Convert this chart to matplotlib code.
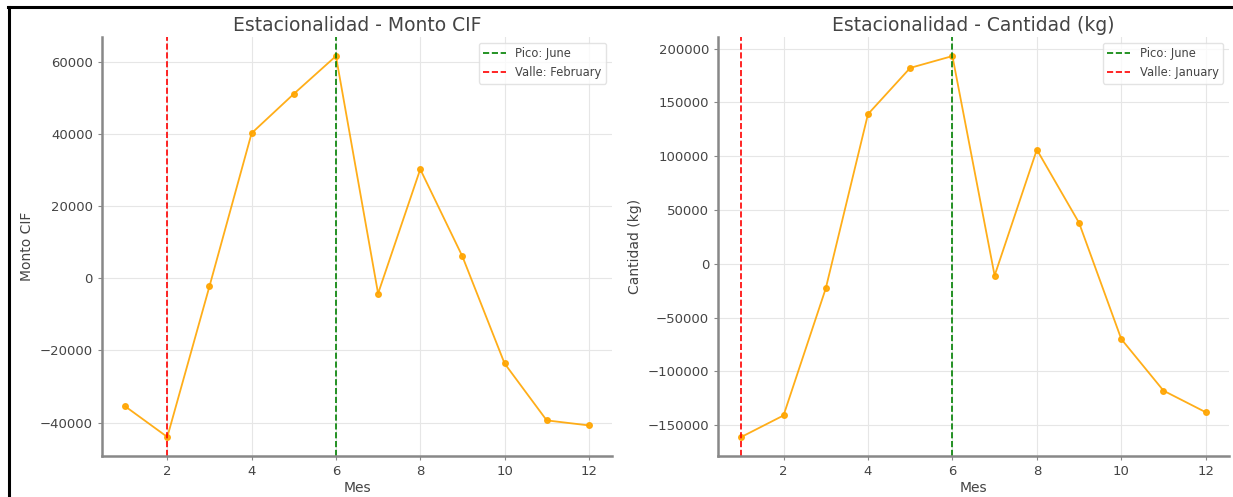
import matplotlib
matplotlib.use("Agg")
import matplotlib.pyplot as plt
from matplotlib.lines import Line2D

meses = [1, 2, 3, 4, 5, 6, 7, 8, 9, 10, 11, 12]
monto_cif = [-35500, -44000, -2200, 40300, 51200, 61700, -4200, 30300, 6100, -23600, -39400, -40800]
cantidad_kg = [-161000, -141000, -23000, 139000, 182000, 193000, -11000, 106000, 38000, -70000, -118000, -138000]

pico_monto, valle_monto = 6, 2
pico_cant, valle_cant = 6, 1
labels_monto = ["Pico: June", "Valle: February"]
labels_cant = ["Pico: June", "Valle: January"]

plt.rcParams['font.family'] = ['DejaVu Sans']

fig = plt.figure(figsize=(12.33, 4.97), dpi=100)
ax1 = fig.add_axes([0.0827, 0.0825, 0.4137, 0.843])
ax2 = fig.add_axes([0.5824, 0.0825, 0.4143, 0.843])

def style(ax, x, y, pico, valle, labs, title, ylabel):
    ax.plot(x, y, color='#FFA500', marker='o', markersize=4, linewidth=1.3, alpha=0.9)
    ax.axvline(pico, color='green', linestyle='--', linewidth=1.2, label=labs[0])
    ax.axvline(valle, color='red', linestyle='--', linewidth=1.2, label=labs[1])
    ax.set_title(title, fontsize=13.5, color='#444444', pad=4)
    ax.set_xlabel('Mes', fontsize=10, color='#444444', labelpad=2)
    ax.set_ylabel(ylabel, fontsize=10, color='#444444', labelpad=4)
    ax.grid(True, color='#e6e6e6', linewidth=0.8)
    ax.set_axisbelow(True)
    for s in ['top', 'right']:
        ax.spines[s].set_visible(False)
    for s in ['left', 'bottom']:
        ax.spines[s].set_color('#888888')
        ax.spines[s].set_linewidth(1.8)
    ax.tick_params(colors='#888888', labelcolor='#444444', labelsize=9.5, length=3)
    leg = ax.legend(loc='upper right', fontsize=8.3, frameon=True, framealpha=0.8,
                    edgecolor='#dddddd')
    for t in leg.get_texts():
        t.set_color('#444444')

style(ax1, meses, monto_cif, pico_monto, valle_monto, labels_monto,
      'Estacionalidad - Monto CIF', 'Monto CIF')
style(ax2, meses, cantidad_kg, pico_cant, valle_cant, labels_cant,
      'Estacionalidad - Cantidad (kg)', 'Cantidad (kg)')
ax1.set_xticks([2, 4, 6, 8, 10, 12])
ax2.set_xticks([2, 4, 6, 8, 10, 12])

# screenshot frame lines (top and left)
fig.add_artist(Line2D([0.0065, 1.0], [0.9859, 0.9859], transform=fig.transFigure, color='black', linewidth=2.2))
fig.add_artist(Line2D([0.0073, 0.0073], [0.0, 0.9859], transform=fig.transFigure, color='black', linewidth=2.2))

fig.savefig('out.png', dpi=100)
